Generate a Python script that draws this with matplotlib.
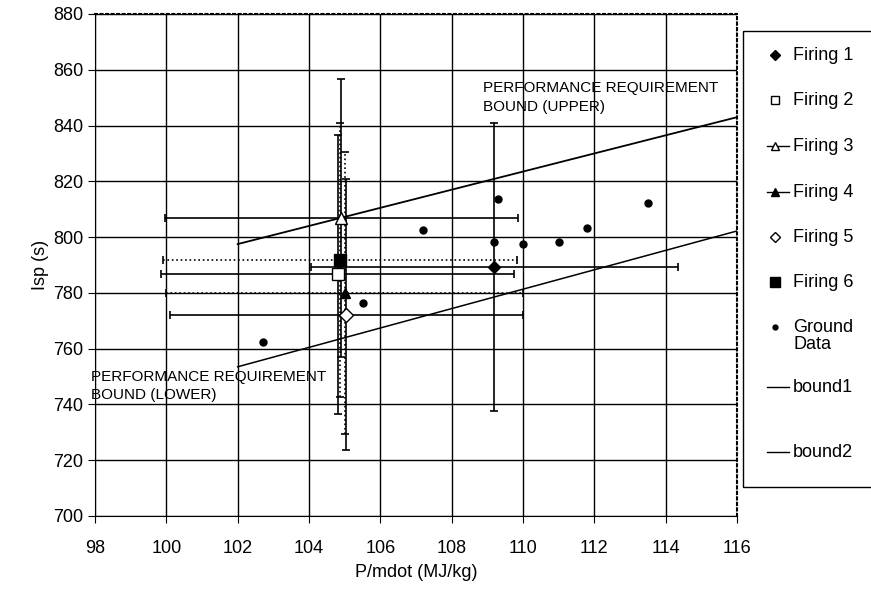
import matplotlib.pyplot as plt
from matplotlib.lines import Line2D
from matplotlib.patches import Rectangle

plt.rcParams['font.family'] = ['Liberation Sans', 'DejaVu Sans']

# firings: P/mdot, Isp and their error bars
firing_names = ['Firing 1', 'Firing 2', 'Firing 3', 'Firing 4', 'Firing 5', 'Firing 6']
firing_x = [109.2, 104.8, 104.9, 105.0, 105.05, 104.87]
firing_y = [789.3, 786.7, 806.8, 780.0, 772.1, 791.8]
firing_xerr = [5.15, 4.95, 4.95, 5.0, 4.95, 4.95]
firing_yerr = [51.5, 50.0, 49.9, 50.5, 48.6, 49.0]

# ground test data
ground_x = [102.7, 105.5, 107.2, 109.2, 109.3, 110.0, 111.0, 111.8, 113.5]
ground_y = [762.4, 776.5, 802.5, 798.4, 813.6, 797.6, 798.3, 803.3, 812.3]

# performance requirement bounds
bound_x = [102, 116]
bound1_y = [797.5, 843.0]
bound2_y = [753.5, 802.2]

markers = ['D', 's', '^', '^', 'D', 's']
faces = ['k', 'w', 'w', 'k', 'w', 'k']
msizes = [6, 8, 8, 7, 7, 8]
estyles = ['-', '-', '-', ':', '-', ':']

fig = plt.figure(figsize=(8.71, 5.98), dpi=100)
ax = fig.add_axes([95 / 871, 1 - 516 / 598, (737 - 95) / 871, (516 - 14) / 598])

for i in range(len(firing_x)):
    eb = ax.errorbar(firing_x[i], firing_y[i], xerr=firing_xerr[i], yerr=firing_yerr[i],
                     fmt=markers[i], mfc=faces[i], mec='k', ms=msizes[i], ecolor='k',
                     elinewidth=1.2, capsize=3, capthick=1.2, zorder=4)
    for lc in eb[2]:
        lc.set_linestyle(estyles[i])

ax.plot(ground_x, ground_y, 'o', color='k', ms=5, zorder=5)
ax.plot(bound_x, bound1_y, '-', color='k', lw=1.3, zorder=3)
ax.plot(bound_x, bound2_y, '-', color='k', lw=1.1, zorder=3)

ax.text(108.87, 856, 'PERFORMANCE REQUIREMENT\nBOUND (UPPER)', fontsize=11,
        va='top', ha='left', linespacing=1.45)
ax.text(97.9, 752.5, 'PERFORMANCE REQUIREMENT\nBOUND (LOWER)', fontsize=11,
        va='top', ha='left', linespacing=1.4)

ax.set_xlim(98, 116)
ax.set_ylim(700, 880)
ax.set_xticks(range(98, 117, 2))
ax.set_yticks(range(700, 881, 20))
ax.grid(True, color='k', lw=1.0)
ax.set_axisbelow(True)
ax.tick_params(axis='both', direction='out', length=5, labelsize=13, color='k')
ax.tick_params(axis='x', pad=12)
ax.spines['top'].set_linestyle(':')
ax.spines['right'].set_linestyle(':')
ax.spines['top'].set_linewidth(1.5)
ax.spines['right'].set_linewidth(1.5)
ax.set_xlabel('P/mdot (MJ/kg)', fontsize=13, labelpad=5)
ax.set_ylabel('Isp (s)', fontsize=13, labelpad=3)

# hand-placed legend box on the right
fig.patches.append(Rectangle((743 / 871, 1 - 487 / 598), 0.2, (487 - 31) / 598,
                             transform=fig.transFigure, fill=False, ec='k', lw=1.0))
leg_labels = firing_names + ['Ground\nData', 'bound1', 'bound2']
leg_rows = [55, 100, 146, 192, 237, 282, 327, 387, 452]
leg_markers = ['D', 's', '^', '^', 'D', 's', 'o', None, None]
leg_faces = ['k', 'w', 'w', 'k', 'w', 'k', 'k', 'k', 'k']
leg_ms = [5, 6, 6, 6, 5, 7, 3.5, 0, 0]
leg_lines = [False, False, True, True, False, False, False, True, True]
for lab, row, mk, fc, ms, ln in zip(leg_labels, leg_rows, leg_markers, leg_faces, leg_ms, leg_lines):
    fy = 1 - row / 598
    if ln:
        fig.add_artist(Line2D([767 / 871, 789 / 871], [fy, fy], color='k', lw=1.0,
                              transform=fig.transFigure))
    if mk:
        fig.add_artist(Line2D([775 / 871], [fy], marker=mk, mfc=fc, mec='k', ms=ms,
                              transform=fig.transFigure))
    fig.text(793 / 871, fy + 0.013, lab, fontsize=13, va='top', ha='left', linespacing=0.95)

fig.savefig('out.png', dpi=100)
